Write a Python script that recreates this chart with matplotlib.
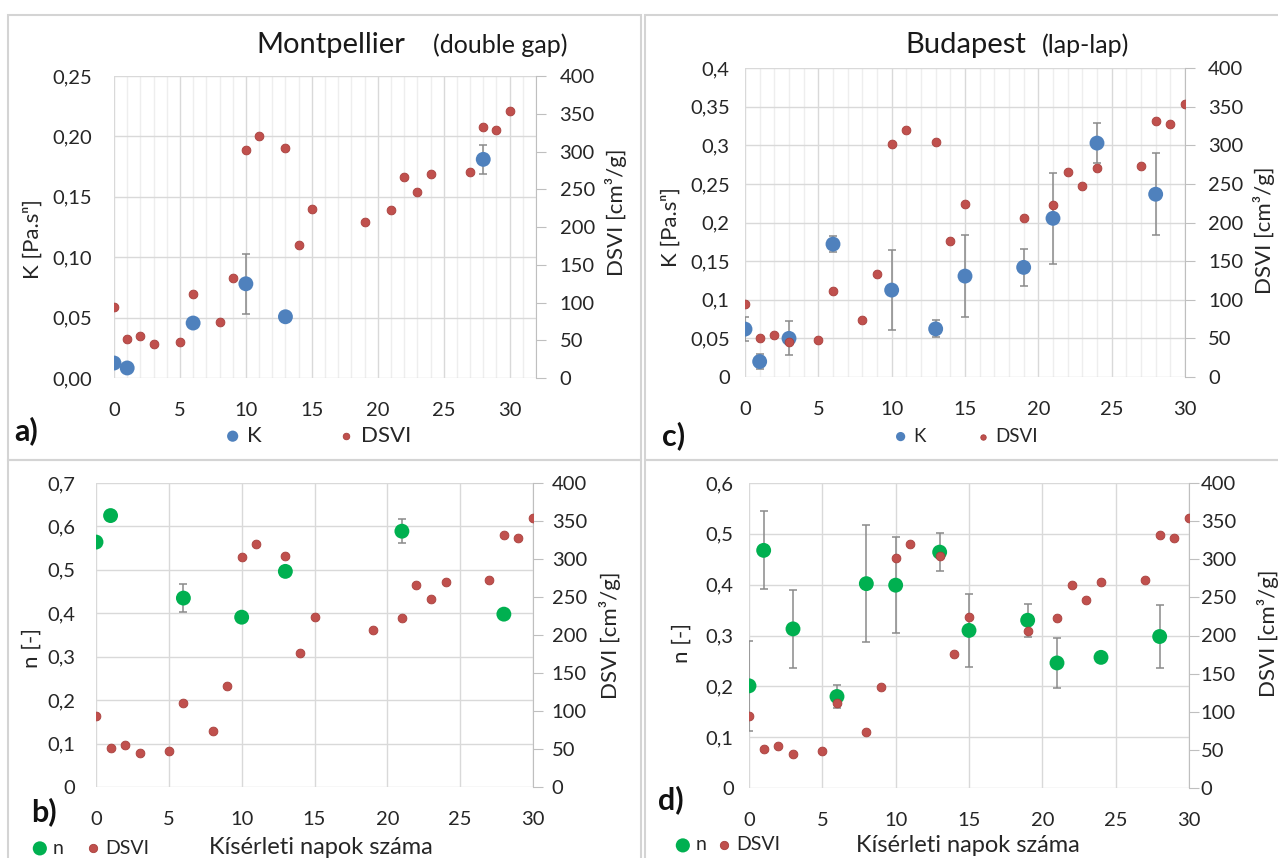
import matplotlib
matplotlib.use("Agg")
import matplotlib.pyplot as plt
from matplotlib.ticker import MultipleLocator, FuncFormatter
from matplotlib.patches import Rectangle

plt.rcParams['font.family'] = ['Lato', 'DejaVu Sans']

W, H = 1278, 858
fig = plt.figure(figsize=(W / 100, H / 100), dpi=100)

# ---- data -------------------------------------------------------------
# sludge volume index, shared by all four panels
dsvi_days = [0, 1, 2, 3, 5, 6, 8, 9, 10, 11, 13, 14, 15, 19, 21, 22, 23, 24, 27, 28, 29, 30]
dsvi = [94, 51, 55, 45, 48, 111, 74, 133, 302, 320, 304, 176, 224, 206, 223, 266, 247, 270, 273, 332, 328, 354]

# Montpellier (double gap)
mp_k_days = [0, 1, 6, 10, 13, 28]
mp_k = [0.0124, 0.0083, 0.0455, 0.078, 0.0507, 0.181]
mp_k_err = [0, 0, 0.004, 0.025, 0, 0.012]

mp_n_days = [0, 1, 6, 10, 13, 21, 28]
mp_n = [0.564, 0.625, 0.435, 0.391, 0.4965, 0.589, 0.398]
mp_n_err = [0, 0, 0.033, 0, 0, 0.027, 0]

# Budapest (lap-lap)
bp_k_days = [0, 1, 3, 6, 10, 13, 15, 19, 21, 24, 28]
bp_k = [0.062, 0.020, 0.050, 0.172, 0.1125, 0.0623, 0.1306, 0.1419, 0.2054, 0.3028, 0.2366]
bp_k_err = [0.016, 0.010, 0.022, 0.010, 0.052, 0.011, 0.053, 0.024, 0.059, 0.026, 0.053]

bp_n_days = [0, 1, 3, 6, 8, 10, 13, 15, 19, 21, 24, 28]
bp_n = [0.201, 0.4675, 0.313, 0.180, 0.402, 0.399, 0.464, 0.310, 0.330, 0.246, 0.257, 0.298]
bp_n_err = [0.089, 0.077, 0.077, 0.023, 0.115, 0.095, 0.038, 0.071, 0.032, 0.050, 0, 0.062]

BLUE = '#4f81bd'
GREEN = '#00b050'
RED = '#c0504d'
RED_EDGE = '#a8403d'
GRID = '#d9d9d9'
MINOR = '#eeeeee'
TXT = '#262626'
TICK_FS = 14.5


def fx(x):
    return x / W


def fy(y):
    return 1 - y / H


def px_axes(x0, y0, x1, y1):
    return fig.add_axes([x0 / W, 1 - y1 / H, (x1 - x0) / W, (y1 - y0) / H])


def fmt_fixed(v, pos):
    return f"{v:.2f}".replace('.', ',')


def fmt_general(v, pos):
    s = f"{v:.2f}".rstrip('0').rstrip('.')
    return s.replace('.', ',')


def panel(rect, days, vals, errs, color, ymax, ystep, yfmt, xmax, minor_x, lpad, rpad):
    ax = px_axes(*rect)
    ax.set_xlim(0, xmax)
    ax.set_ylim(0, ymax)
    ax.set_xticks(range(0, 31, 5))
    if minor_x:
        ax.xaxis.set_minor_locator(MultipleLocator(1))
        ax.grid(True, which='minor', axis='x', color=MINOR, lw=1, zorder=0)
    ax.yaxis.set_major_locator(MultipleLocator(ystep))
    ax.yaxis.set_major_formatter(FuncFormatter(yfmt))
    ax.grid(True, which='major', color=GRID, lw=1, zorder=0)
    ax.set_axisbelow(True)
    for s in ax.spines.values():
        s.set_visible(False)
    ax.tick_params(axis='both', which='both', length=0, labelsize=TICK_FS, labelcolor=TXT)
    ax.tick_params(axis='y', pad=lpad)
    ax.tick_params(axis='x', pad=17)
    ax.errorbar(days, vals, yerr=errs, fmt='none', ecolor='#8a8a8a', elinewidth=1.1,
                capsize=3, capthick=1.1, zorder=2)
    h = ax.scatter(days, vals, s=115, color=color, edgecolors='none', zorder=3)

    ax2 = ax.twinx()
    ax2.set_ylim(0, 400)
    ax2.yaxis.set_major_locator(MultipleLocator(50))
    for k, s in ax2.spines.items():
        s.set_visible(k == 'right')
    ax2.spines['right'].set_color('#bfbfbf')
    ax2.tick_params(axis='y', direction='out', length=7, color='#bfbfbf',
                    labelsize=TICK_FS, labelcolor=TXT, pad=rpad)
    h2 = ax2.scatter(dsvi_days, dsvi, s=40, color=RED, edgecolors=RED_EDGE, linewidths=0.6, zorder=3)
    return h, h2


# panel frames
for x0, y0, x1, y1 in [(8, 15, 641, 460), (645, 15, 1290, 460),
                       (8, 460, 641, 870), (645, 460, 1290, 870)]:
    fig.add_artist(Rectangle((fx(x0), fy(y1)), (x1 - x0) / W, (y1 - y0) / H,
                             transform=fig.transFigure, fill=False,
                             edgecolor='#d4d4d4', lw=1.5))

# a) Montpellier K
ha, ha2 = panel((114, 76, 536, 378), mp_k_days, mp_k, mp_k_err, BLUE,
                0.25, 0.05, fmt_fixed, 32, True, 16, 10)
# c) Budapest K
hc, hc2 = panel((745, 68, 1185, 377), bp_k_days, bp_k, bp_k_err, BLUE,
                0.4, 0.05, fmt_general, 30, True, 11, 9.5)
# b) Montpellier n
hb, hb2 = panel((96, 483, 533, 787), mp_n_days, mp_n, mp_n_err, GREEN,
                0.7, 0.1, fmt_general, 30, False, 15, 6.5)
# d) Budapest n
hd, hd2 = panel((749, 483, 1189, 788), bp_n_days, bp_n, bp_n_err, GREEN,
                0.6, 0.1, fmt_general, 30, False, 11, 1.5)

# titles
fig.text(fx(256), fy(53), 'Montpellier', fontsize=21, color='#1a1a1a', va='baseline')
fig.text(fx(433), fy(53), '(double gap)', fontsize=18, color='#1a1a1a', va='baseline')
fig.text(fx(905), fy(53), 'Budapest', fontsize=21, color='#1a1a1a', va='baseline')
fig.text(fx(1042), fy(53), '(lap-lap)', fontsize=18, color='#1a1a1a', va='baseline')

# axis titles
fig.text(fx(33), fy(239), 'K [Pa.s\u207f]', fontsize=16, rotation=90, ha='center', va='center', color=TXT)
fig.text(fx(671), fy(227), 'K [Pa.s\u207f]', fontsize=16, rotation=90, ha='center', va='center', color=TXT)
fig.text(fx(32), fy(648), 'n [-]', fontsize=16, rotation=90, ha='center', va='center', color=TXT)
fig.text(fx(682), fy(643), 'n [-]', fontsize=16, rotation=90, ha='center', va='center', color=TXT)
fig.text(fx(616), fy(212), 'DSVI [cm\u00b3/g]', fontsize=16, rotation=90, ha='center', va='center', color=TXT)
fig.text(fx(1264), fy(230), 'DSVI [cm\u00b3/g]', fontsize=16, rotation=90, ha='center', va='center', color=TXT)
fig.text(fx(610), fy(635), 'DSVI [cm\u00b3/g]', fontsize=16, rotation=90, ha='center', va='center', color=TXT)
fig.text(fx(1268), fy(633), 'DSVI [cm\u00b3/g]', fontsize=16, rotation=90, ha='center', va='center', color=TXT)

# x axis titles
fig.text(fx(321), fy(848), 'Kísérleti napok száma', fontsize=17, ha='center', va='center', color=TXT)
fig.text(fx(968), fy(845), 'Kísérleti napok száma', fontsize=17, ha='center', va='center', color=TXT)

# panel letters
for lab, x, y in [('a)', 26, 431), ('c)', 674, 436), ('b)', 44, 812), ('d)', 671, 800)]:
    fig.text(fx(x), fy(y), lab, fontsize=22, fontweight='bold', ha='center', va='center', color='#111111')


# legends
def legend(handles, labels, x, y, fs, colspace, mscale):
    fig.legend(handles, labels, loc='center left', bbox_to_anchor=(fx(x), fy(y)),
               ncol=len(handles), frameon=False, fontsize=fs, handlelength=0.6,
               handletextpad=0.35, columnspacing=colspace, borderpad=0, borderaxespad=0,
               markerscale=mscale, labelcolor=TXT)


legend([ha, ha2], ['K', 'DSVI'], 226, 436, 16, 3.5, 0.75)
legend([hc, hc2], ['K', 'DSVI'], 895, 436, 13.5, 2.8, 0.62)
legend([hb, hb2], ['n', 'DSVI'], 34, 848, 14, 1.2, 0.95)
legend([hd, hd2], ['n', 'DSVI'], 677, 845, 14, 0.6, 0.95)

fig.savefig('out.png', dpi=100)
